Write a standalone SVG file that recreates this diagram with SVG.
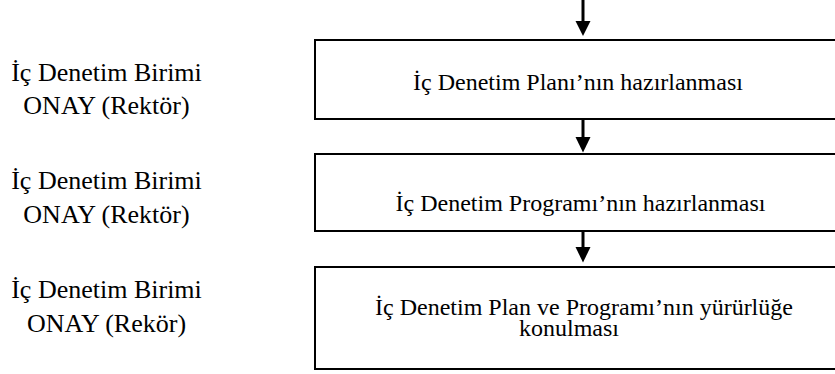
<svg xmlns="http://www.w3.org/2000/svg" width="835" height="374" viewBox="0 0 835 374">
<style>
.box{fill:#fff;stroke:#000;stroke-width:2}
.bt{font-family:"Liberation Serif","Times New Roman",serif;font-size:24px;fill:#000;text-anchor:middle}
.lt{font-family:"Liberation Serif","Times New Roman",serif;font-size:26px;fill:#000;text-anchor:middle}
.shaft{stroke:#000;stroke-width:3;fill:none}
.head{fill:#000}
</style>
<rect width="835" height="374" fill="#fff"/>
<g id="label1"><text class="lt" x="106.5" y="81">İç Denetim Birimi</text><text class="lt" x="106.5" y="114">ONAY (Rektör)</text></g>
<g id="label2"><text class="lt" x="106.5" y="189">İç Denetim Birimi</text><text class="lt" x="106.5" y="223">ONAY (Rektör)</text></g>
<g id="label3"><text class="lt" x="106.5" y="298">İç Denetim Birimi</text><text class="lt" x="106.5" y="332">ONAY (Rekör)</text></g>
<g id="node1"><rect class="box" x="315" y="40" width="536" height="79"/><text class="bt" x="578" y="90">İç Denetim Planı’nın hazırlanması</text></g>
<g id="node2"><rect class="box" x="315" y="154" width="536" height="77"/><text class="bt" x="580.5" y="210.5">İç Denetim Programı’nın hazırlanması</text></g>
<g id="node3"><rect class="box" x="315" y="267" width="536" height="102"/><text class="bt" x="584" y="315">İç Denetim Plan ve Programı’nın yürürlüğe</text><text class="bt" x="569" y="336">konulması</text></g>
<g id="connectors">
<line class="shaft" x1="583" y1="0" x2="583" y2="22"/><polygon class="head" points="575.5,21 590.5,21 583,36"/>
<line class="shaft" x1="583" y1="120" x2="583" y2="138"/><polygon class="head" points="575.5,137 590.5,137 583,152.5"/>
<line class="shaft" x1="583" y1="232" x2="583" y2="248"/><polygon class="head" points="575.5,247 590.5,247 583,262.5"/>
</g>
</svg>
